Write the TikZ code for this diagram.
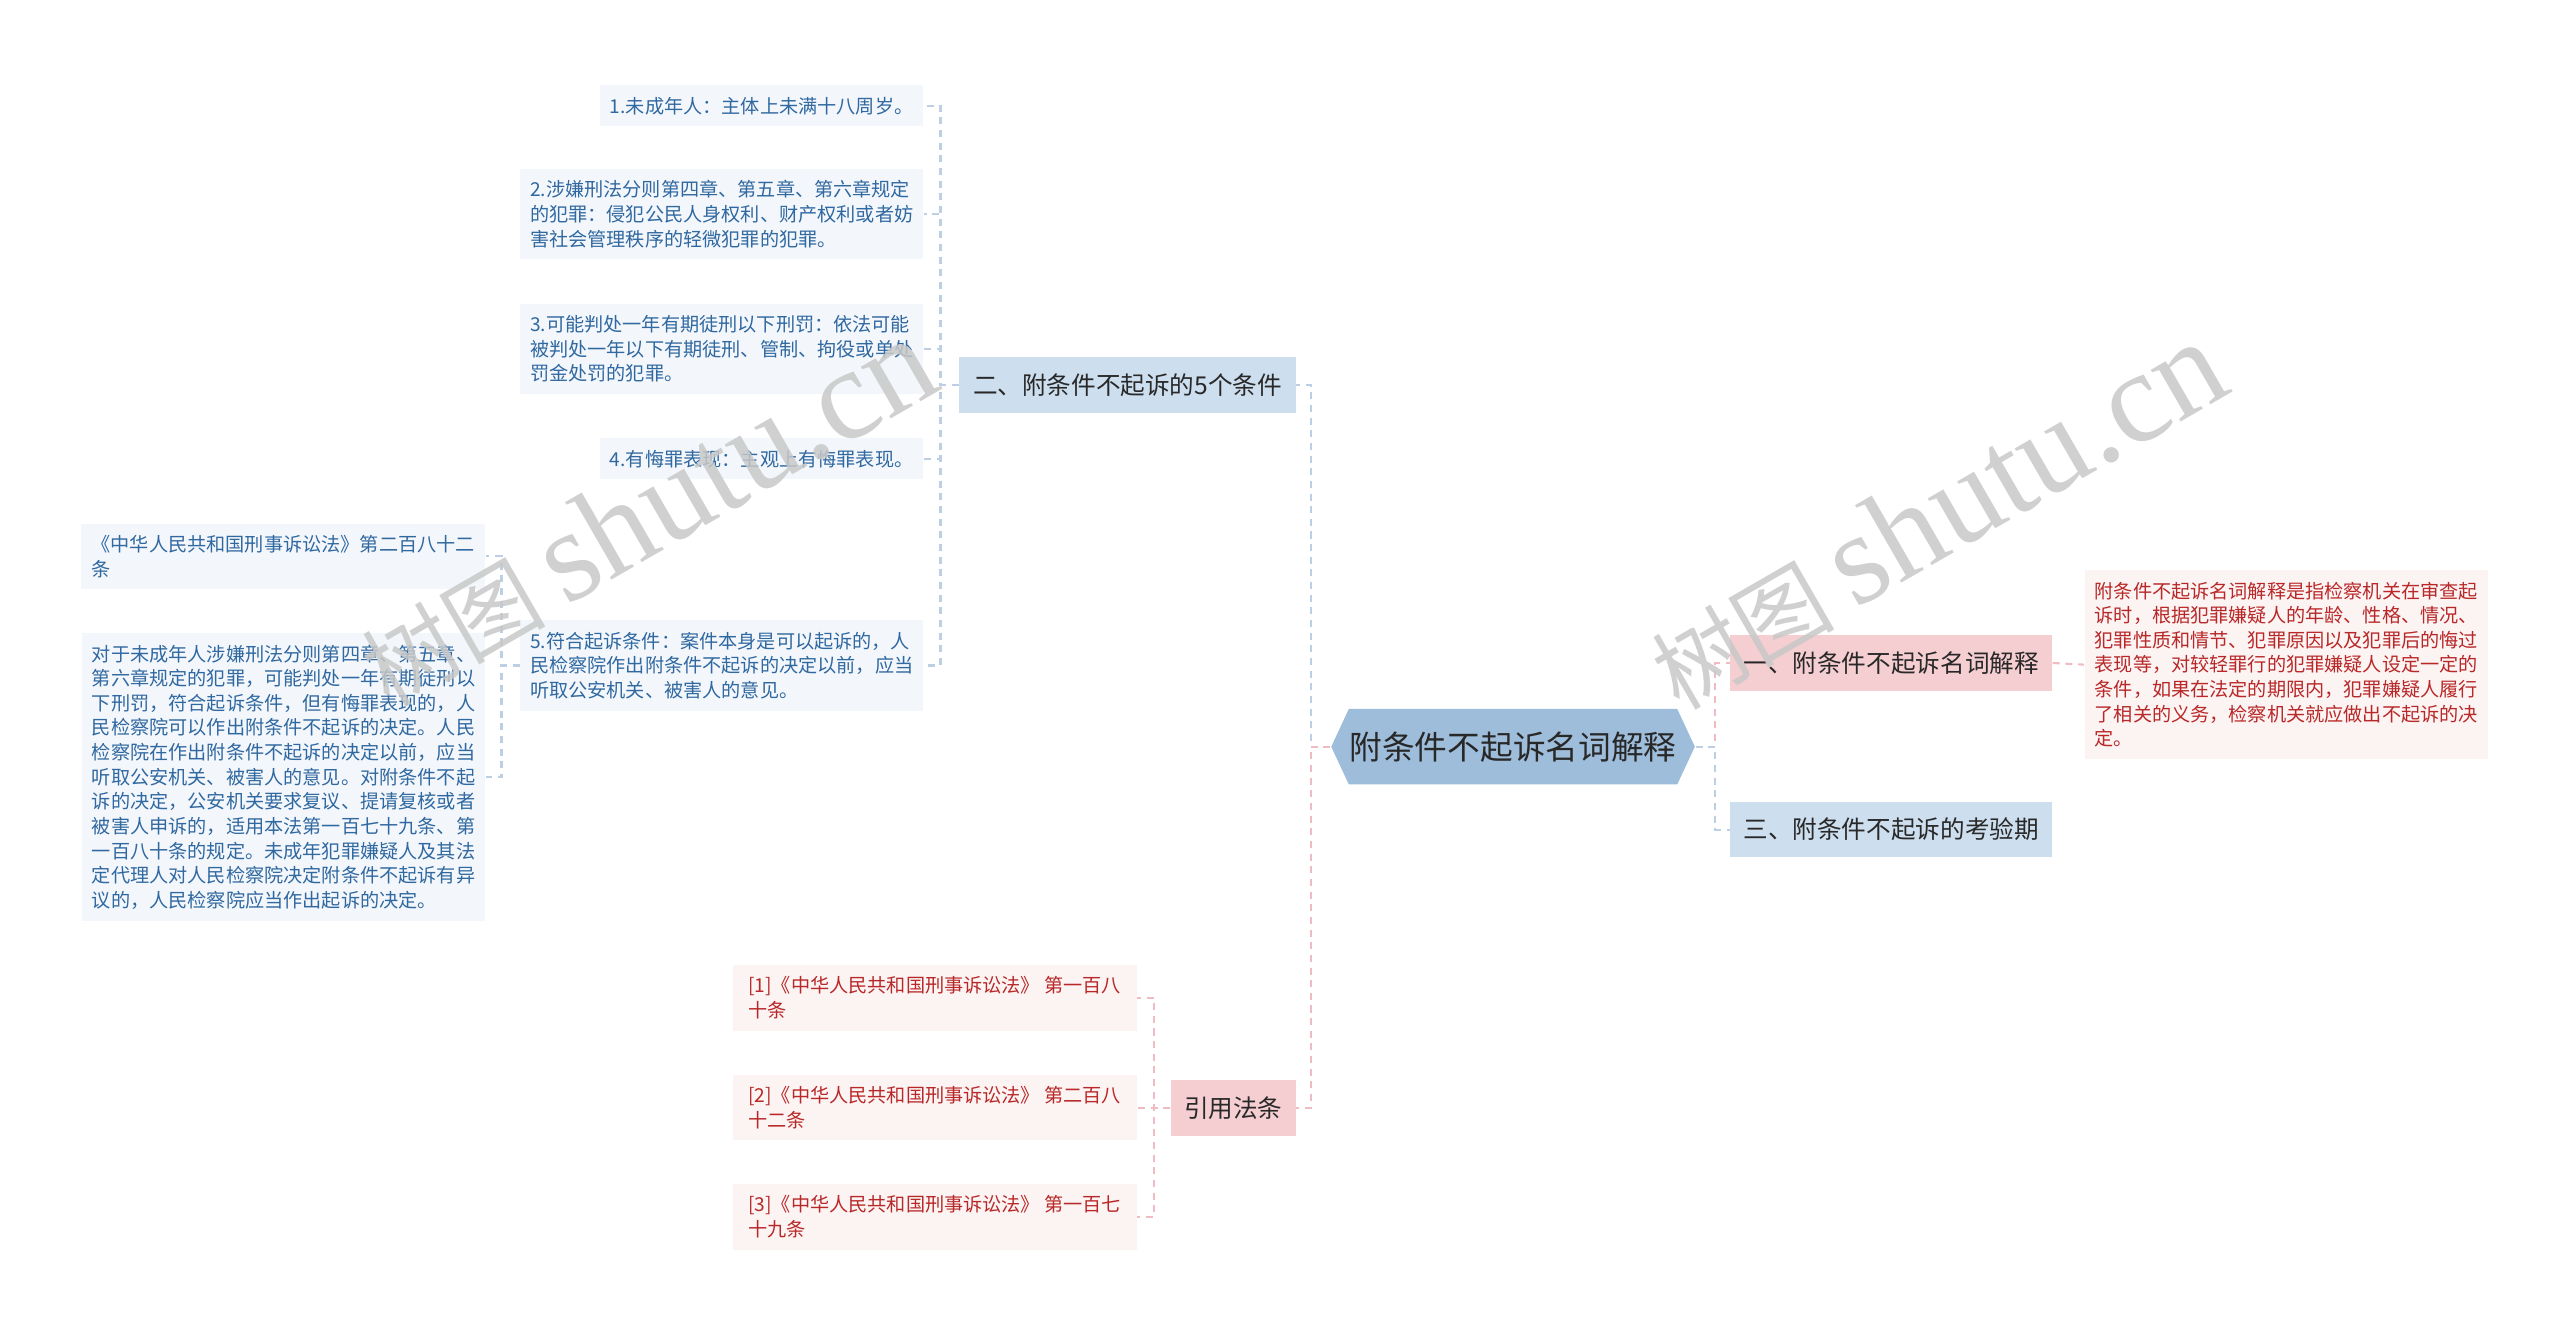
\documentclass[tikz,border=0pt]{standalone}
\usepackage{fontspec}
\setmainfont{Noto Sans CJK SC}
\newfontfamily\wmserif{Liberation Serif}
\usepackage{xcolor}
\definecolor{root-fill}{RGB}{158,189,218}
\definecolor{branch-blue}{RGB}{205,222,238}
\definecolor{branch-pink}{RGB}{245,206,209}
\definecolor{leaf-blue}{RGB}{243,247,252}
\definecolor{leaf-pink}{RGB}{252,243,243}
\definecolor{text-dark}{RGB}{40,40,40}
\definecolor{text-blue}{RGB}{48,104,160}
\definecolor{text-red}{RGB}{185,40,40}
\definecolor{line-blue}{RGB}{188,207,228}
\definecolor{line-pink}{RGB}{240,188,196}
\definecolor{mark-gray}{RGB}{200,200,200}
\usepackage{tikz}
\usetikzlibrary{positioning,shapes.symbols}
\newlength\unitpx
\setlength\unitpx{0.01641cm}

\begin{document}
\begin{tikzpicture}[
  x=\unitpx, y=-\unitpx,
  rootbox/.style={
    shape=signal, signal to=east and west, signal pointer angle=130,
    fill=root-fill, text=text-dark, font=\fontsize{9.3pt}{11pt}\selectfont,
    minimum height=46\unitpx, inner xsep=0.2pt
  },
  branchbox/.style={
    fill=#1, text=text-dark, font=\fontsize{7pt}{8.5pt}\selectfont,
    minimum height=34\unitpx, inner xsep=3.6pt
  },
  leafbox/.style={
    fill=leaf-blue, text=text-blue, align=left,
    font=\fontsize{5.45pt}{7pt}\selectfont,
    inner xsep=2.8pt, inner ysep=3.3pt, minimum height=25\unitpx
  },
  citebox/.style={
    leafbox, fill=leaf-pink, text=text-red
  },
  link/.style={draw=#1, line width=0.6pt, dash pattern=on 2pt off 1.6pt},
  watermark/.style={text=mark-gray, rotate=30, opacity=0.85}
]
\useasboundingbox (0,0) rectangle (1560,808.6);

% Root
\node[rootbox] (root) at (922,455) {附条件不起诉名词解释};

% Right side
\node[branchbox=branch-pink, anchor=west, minimum width=196\unitpx] (def) at (1054,404) {一、附条件不起诉名词解释};
\node[branchbox=branch-blue, anchor=west, minimum width=196\unitpx] (test) at (1054,505.5) {三、附条件不起诉的考验期};
\node[citebox, anchor=west] (defText) at (1270,405) {附条件不起诉名词解释是指检察机关在审查起\\诉时，根据犯罪嫌疑人的年龄、性格、情况、\\犯罪性质和情节、犯罪原因以及犯罪后的悔过\\表现等，对较轻罪行的犯罪嫌疑人设定一定的\\条件，如果在法定的期限内，犯罪嫌疑人履行\\了相关的义务，检察机关就应做出不起诉的决\\定。};

% Left side
\node[branchbox=branch-blue, anchor=east, minimum width=205\unitpx] (cond) at (790,234.5) {二、附条件不起诉的5个条件};
\node[branchbox=branch-pink, anchor=east, minimum width=76\unitpx] (law) at (790,675) {引用法条};

% Conditions
\node[leafbox, anchor=east] (c1) at (563,64.5) {1.未成年人：主体上未满十八周岁。};
\node[leafbox, anchor=east] (c2) at (563,130.5) {2.涉嫌刑法分则第四章、第五章、第六章规定\\的犯罪：侵犯公民人身权利、财产权利或者妨\\害社会管理秩序的轻微犯罪的犯罪。};
\node[leafbox, anchor=east] (c3) at (563,212.5) {3.可能判处一年有期徒刑以下刑罚：依法可能\\被判处一年以下有期徒刑、管制、拘役或单处\\罚金处罚的犯罪。};
\node[leafbox, anchor=east] (c4) at (563,279.5) {4.有悔罪表现：主观上有悔罪表现。};
\node[leafbox, anchor=east] (c5) at (563,405.5) {5.符合起诉条件：案件本身是可以起诉的，人\\民检察院作出附条件不起诉的决定以前，应当\\听取公安机关、被害人的意见。};

% Notes of condition 5
\node[leafbox, anchor=east, minimum width=246\unitpx] (n1) at (296,339) {《中华人民共和国刑事诉讼法》第二百八十二\\条};
\node[leafbox, anchor=east] (n2) at (296,473.5) {对于未成年人涉嫌刑法分则第四章、第五章、\\第六章规定的犯罪，可能判处一年有期徒刑以\\下刑罚，符合起诉条件，但有悔罪表现的，人\\民检察院可以作出附条件不起诉的决定。人民\\检察院在作出附条件不起诉的决定以前，应当\\听取公安机关、被害人的意见。对附条件不起\\诉的决定，公安机关要求复议、提请复核或者\\被害人申诉的，适用本法第一百七十九条、第\\一百八十条的规定。未成年犯罪嫌疑人及其法\\定代理人对人民检察院决定附条件不起诉有异\\议的，人民检察院应当作出起诉的决定。};

% Cited articles
\node[citebox, anchor=east, minimum width=246\unitpx] (a1) at (693,608) {[1]《中华人民共和国刑事诉讼法》 第一百八\\十条};
\node[citebox, anchor=east, minimum width=246\unitpx] (a2) at (693,675) {[2]《中华人民共和国刑事诉讼法》 第二百八\\十二条};
\node[citebox, anchor=east, minimum width=246\unitpx] (a3) at (693,741.5) {[3]《中华人民共和国刑事诉讼法》 第一百七\\十九条};

% Connectors
\draw[link=line-pink] (root.east) -- ++(12,0) |- (def.west);
\draw[link=line-blue] (root.east) -- ++(12,0) |- (test.west);
\draw[link=line-pink] (def.east) -- (defText.west);
\draw[link=line-blue] (root.west) -- ++(-12,0) |- (cond.east);
\draw[link=line-pink] (root.west) -- ++(-12,0) |- (law.east);
\foreach \leaf in {c1,c2,c3,c4,c5}
  \draw[link=line-blue] (cond.west) -- ++(-11,0) |- (\leaf.east);
\foreach \leaf in {n1,n2}
  \draw[link=line-blue] (c5.west) -- ++(-11,0) |- (\leaf.east);
\foreach \leaf in {a1,a2,a3}
  \draw[link=line-pink] (law.west) -- ++(-10,0) |- (\leaf.east);

% Watermarks
\node[watermark] (mark1) at (394,312) {\fontsize{26pt}{26pt}\selectfont 树图 {\wmserif\fontsize{37pt}{37pt}\selectfont shutu.cn}};
\node[watermark] (mark2) at (1180,314) {\fontsize{26pt}{26pt}\selectfont 树图 {\wmserif\fontsize{37pt}{37pt}\selectfont shutu.cn}};

\end{tikzpicture}
\end{document}
